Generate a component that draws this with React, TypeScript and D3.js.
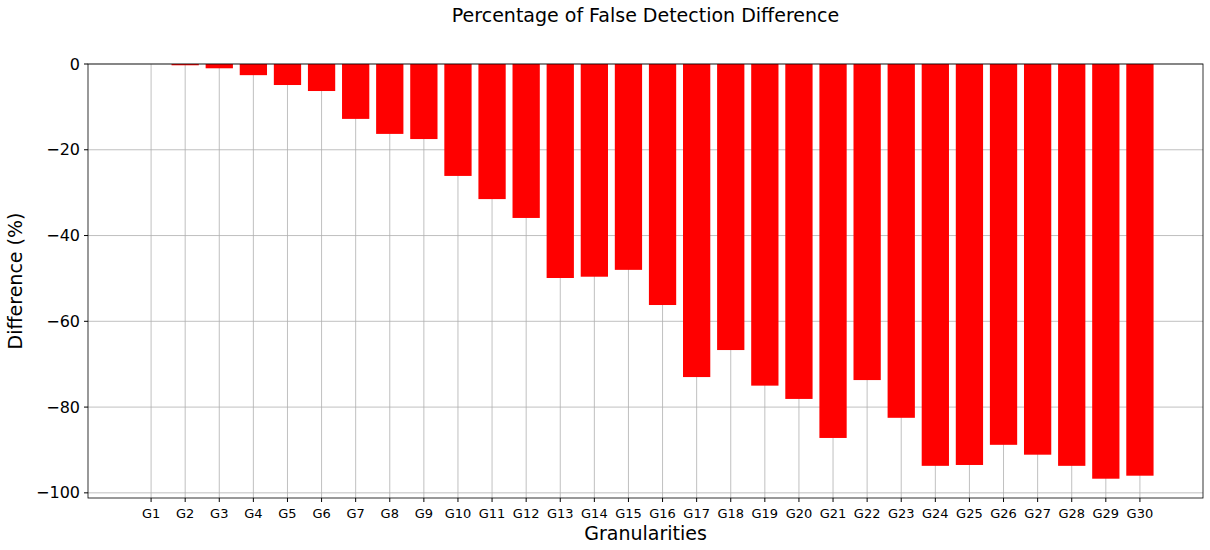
import { useEffect, useRef } from 'react';
import * as d3 from 'd3';

const categories = Array.from({ length: 30 }, (_, i) => `G${i + 1}`);
const diffValues = [
  0, -0.3, -1, -2.6, -4.9, -6.3, -12.8, -16.3, -17.5, -26.1,
  -31.5, -35.9, -49.9, -49.6, -48, -56.2, -73, -66.7, -75, -78.1,
  -87.2, -73.7, -82.5, -93.7, -93.5, -88.8, -91.1, -93.7, -96.7, -96,
];
const yTicks = [0, -20, -40, -60, -80, -100];

export default function App() {
  const svgRef = useRef<SVGSVGElement>(null);

  useEffect(() => {
    if (!svgRef.current) return;
    const width = 1210, height = 550;
    const left = 88, right = 1203, top = 64, bottom = 498;
    const svg = d3.select(svgRef.current).attr('width', width).attr('height', height);
    svg.selectAll('*').remove();

    const x = d3.scaleLinear().domain([-1.85, 30.85]).range([left, right]);
    const y = d3.scaleLinear().domain([0, -101.2]).range([top, bottom]);
    const step = x(1) - x(0);
    const barW = step * 0.8;
    const font = 'DejaVu Sans, sans-serif';

    // grid
    const g = svg.append('g').attr('stroke', '#b0b0b0').attr('stroke-width', 0.8);
    categories.forEach((_, i) => {
      g.append('line').attr('x1', x(i)).attr('x2', x(i)).attr('y1', top).attr('y2', bottom);
    });
    yTicks.forEach(t => {
      g.append('line').attr('x1', left).attr('x2', right).attr('y1', y(t)).attr('y2', y(t));
    });

    // bars
    svg.selectAll('.bar')
      .data(diffValues)
      .enter()
      .append('rect')
      .attr('x', (_, i) => x(i) - barW / 2)
      .attr('y', y(0))
      .attr('width', barW)
      .attr('height', d => y(d) - y(0))
      .attr('fill', '#ff0000');

    // frame
    svg.append('rect').attr('x', left).attr('y', top).attr('width', right - left).attr('height', bottom - top)
      .attr('fill', 'none').attr('stroke', 'black').attr('stroke-width', 0.8);

    // x ticks
    categories.forEach((c, i) => {
      svg.append('line').attr('x1', x(i)).attr('x2', x(i)).attr('y1', bottom).attr('y2', bottom + 4).attr('stroke', 'black');
      svg.append('text').attr('x', x(i)).attr('y', bottom + 20).attr('text-anchor', 'middle')
        .style('font-family', font).style('font-size', '13px').text(c);
    });
    // y ticks
    yTicks.forEach(t => {
      svg.append('line').attr('x1', left - 4).attr('x2', left).attr('y1', y(t)).attr('y2', y(t)).attr('stroke', 'black');
      svg.append('text').attr('x', left - 8).attr('y', y(t)).attr('dy', '0.35em').attr('text-anchor', 'end')
        .style('font-family', font).style('font-size', '16px').text(t === 0 ? '0' : `\u2212${Math.abs(t)}`);
    });

    svg.append('text').attr('x', (left + right) / 2).attr('y', 22).attr('text-anchor', 'middle')
      .style('font-family', font).style('font-size', '19px').text('Percentage of False Detection Difference');
    svg.append('text').attr('x', (left + right) / 2).attr('y', 540).attr('text-anchor', 'middle')
      .style('font-family', font).style('font-size', '19px').text('Granularities');
    svg.append('text').attr('transform', `translate(22, ${(top + bottom) / 2}) rotate(-90)`).attr('text-anchor', 'middle')
      .style('font-family', font).style('font-size', '19px').text('Difference (%)');
  }, []);

  return <svg ref={svgRef} style={{ position: 'absolute', left: 0, top: 0 }}></svg>;
}
